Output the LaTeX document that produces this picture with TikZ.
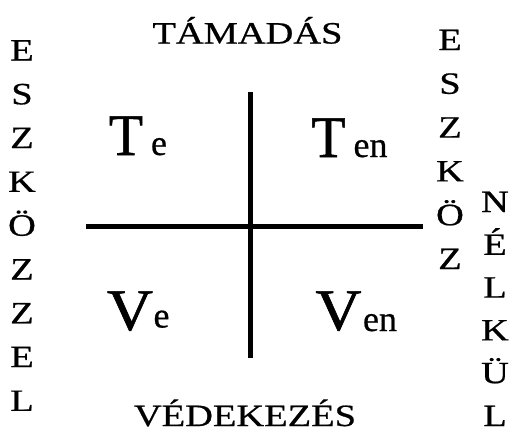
\documentclass[tikz,border=0pt]{standalone}
\usepackage{fontspec}
\setmainfont{Liberation Serif}
\newfontfamily\heavyserif[FakeBold=0.6]{Liberation Serif}
\newfontfamily\bigserif[FakeBold=1.0]{Liberation Serif}
\usepackage{graphicx}
\newcommand{\wideltr}[1]{\scalebox{1.24}[1]{#1}}
\begin{document}
\begin{tikzpicture}[x=1pt,y=-1pt,
  lbl/.style={inner sep=0pt, anchor=base, font=\heavyserif\fontsize{31}{31}\selectfont},
  big/.style={inner sep=0pt, anchor=base, font=\bigserif\fontsize{59}{59}\selectfont},
  subs/.style={inner sep=0pt, anchor=base, font=\heavyserif\fontsize{36}{36}\selectfont},
  axis/.style={line width=5pt}]
\useasboundingbox (0,0) rectangle (515,432);
% titles
\node[lbl] (top) at (247.5,43.5) {\wideltr{TÁMADÁS}};
\node[lbl] (bot) at (245,426) {\wideltr{VÉDEKEZÉS}};
% left column
\foreach \c [count=\i] in {E,S,Z,K,Ö,Z,Z,E,L}
  \node[lbl] (l\i) at (22,{60.5+43.8*(\i-1)}) {\wideltr{\c}};
% right column 1
\foreach \c [count=\i] in {E,S,Z,K,Ö,Z}
  \node[lbl] (r\i) at (450,{50+43.8*(\i-1)}) {\wideltr{\c}};
% right column 2
\foreach \c [count=\i] in {N,É,L,K,Ü,L}
  \node[lbl] (n\i) at (495,{212+42.8*(\i-1)}) {\wideltr{\c}};
% axes
\coordinate (vt) at (250,92);
\coordinate (vb) at (250,358);
\coordinate (hl) at (86,226);
\coordinate (hr) at (423,226);
\draw[axis] (vt) -- (vb);
\draw[axis] (hl) -- (hr);
% quadrant labels
\node[big] (teT) at (126,155) {\scalebox{0.95}[1]{T}};
\node[subs] (tee) at (159,155) {e};
\node[big] (tenT) at (328.5,157) {\scalebox{0.95}[1]{T}};
\node[subs] (tenen) at (370.5,157) {en};
\node[big] (veV) at (130,330) {\scalebox{1.08}[1]{V}};
\node[subs] (vee) at (161.5,327.5) {e};
\node[big] (venV) at (338.5,330) {\scalebox{1.08}[1]{V}};
\node[subs] (venen) at (380,331) {en};
\end{tikzpicture}
\end{document}
